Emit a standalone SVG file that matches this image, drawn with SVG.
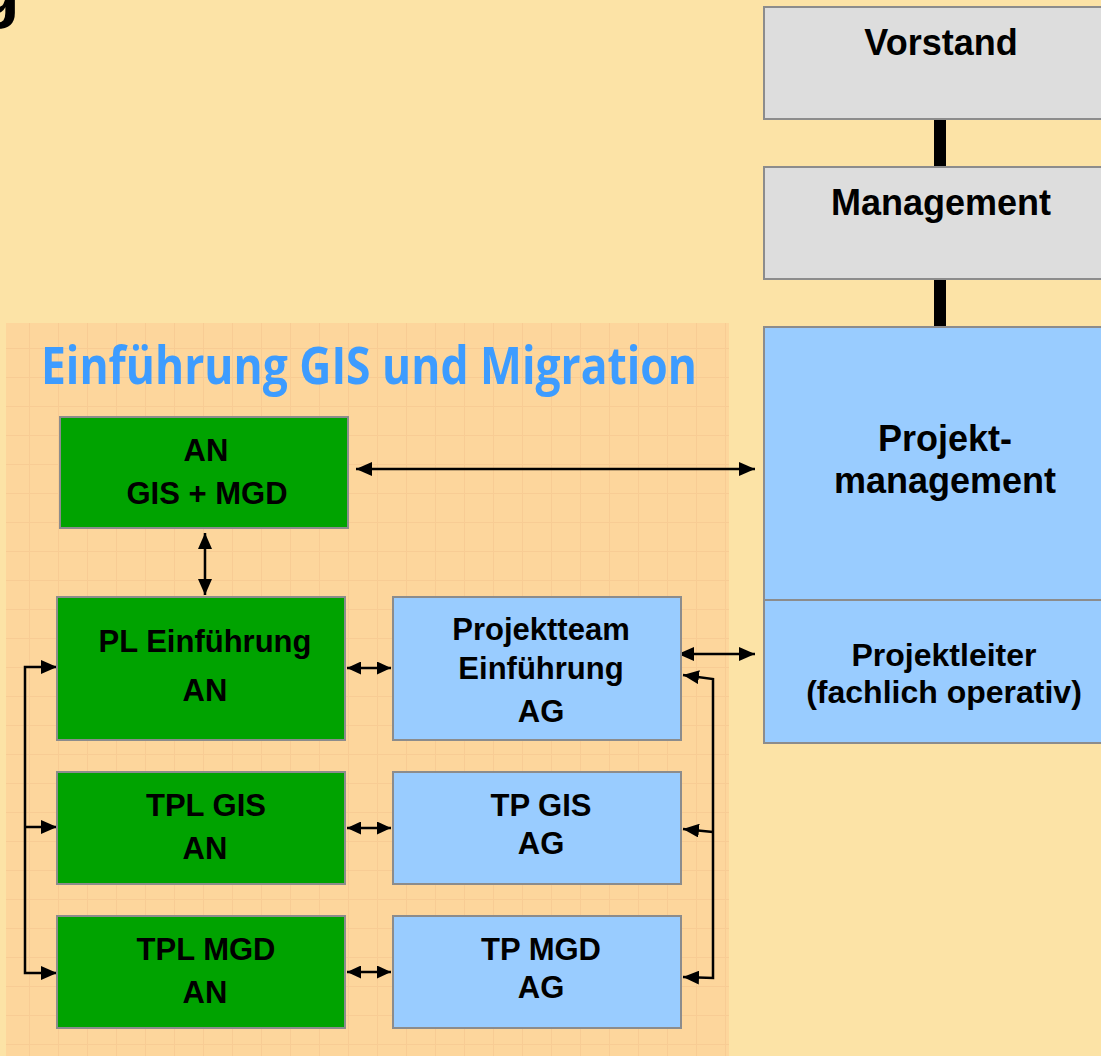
<svg xmlns="http://www.w3.org/2000/svg" width="1101" height="1056" viewBox="0 0 1101 1056">
<defs>
<style>
.gray{fill:#DDDDDD;stroke:#8C8C8C;stroke-width:2}
.blue{fill:#99CCFF;stroke:#8C8C8C;stroke-width:2}
.green{fill:#00A300;stroke:#8C8C8C;stroke-width:2}
.t{font-family:"Liberation Sans",Arial,sans-serif;font-weight:bold;fill:#000;text-anchor:middle}
.c{fill:none;stroke:#000;stroke-width:2.5}
</style>
<marker id="ah" viewBox="0 0 16 14" refX="16" refY="7" markerWidth="16" markerHeight="14" markerUnits="userSpaceOnUse" orient="auto-start-reverse"><path d="M0,0 L16,7 L0,14 z" fill="#000"/></marker>
<marker id="as" viewBox="0 0 14 13" refX="14" refY="6.5" markerWidth="14" markerHeight="13" markerUnits="userSpaceOnUse" orient="auto-start-reverse"><path d="M0,0 L14,6.5 L0,13 z" fill="#000"/></marker>
<pattern id="grid" width="29" height="29" patternUnits="userSpaceOnUse"><rect width="29" height="29" fill="#FDD69C"/><path d="M0,0.5 H29 M0.5,0 V29" stroke="#F8CC94" stroke-width="1"/></pattern>
</defs>
<rect width="1101" height="1056" fill="#FCE3A6"/>
<text x="-23" y="14" font-family="Liberation Sans,Arial,sans-serif" font-weight="bold" font-size="70" fill="#000">g</text>
<rect id="panel" x="6" y="323" width="723" height="740" fill="url(#grid)"/>
<text x="369" y="384" font-family="Open Sans,sans-serif" font-weight="bold" font-size="52" fill="#3D9CFF" text-anchor="middle" textLength="656" lengthAdjust="spacingAndGlyphs">Einführung GIS und Migration</text>
<g id="connectors">
<rect x="934" y="119" width="12" height="48" fill="#000"/>
<rect x="934" y="279" width="12" height="48" fill="#000"/>
<path class="c" d="M356,469 H755" marker-start="url(#ah)" marker-end="url(#ah)"/>
<path class="c" d="M205,533 V595" marker-start="url(#ah)" marker-end="url(#ah)"/>
<path class="c" d="M57,667 H25 V973 H57" marker-start="url(#ah)" marker-end="url(#ah)"/>
<path class="c" d="M25,827 H57" marker-end="url(#ah)"/>
<path class="c" d="M347,668 H391" marker-start="url(#as)" marker-end="url(#as)"/>
<path class="c" d="M347,828 H391" marker-start="url(#as)" marker-end="url(#as)"/>
<path class="c" d="M347,972 H391" marker-start="url(#as)" marker-end="url(#as)"/>
<path class="c" d="M678,654 H755" marker-start="url(#ah)" marker-end="url(#ah)"/>
<path class="c" d="M683,675 L713,679 V978 L683,977" marker-start="url(#ah)" marker-end="url(#ah)"/>
<path class="c" d="M713,832 L683,829" marker-end="url(#ah)"/>
</g>
<g id="vorstand"><rect class="gray" x="764" y="7" width="360" height="112"/><text class="t" x="941" y="55" font-size="36">Vorstand</text></g>
<g id="management"><rect class="gray" x="764" y="167" width="360" height="112"/><text class="t" x="941" y="215" font-size="36">Management</text></g>
<g id="projektmanagement"><rect class="blue" x="764" y="327" width="360" height="273"/><text class="t" x="945" y="451" font-size="36">Projekt-</text><text class="t" x="945" y="493" font-size="36">management</text></g>
<g id="projektleiter"><rect class="blue" x="764" y="600" width="360" height="143"/><text class="t" x="944" y="666" font-size="32">Projektleiter</text><text class="t" x="944" y="703" font-size="32">(fachlich operativ)</text></g>
<g id="an-gis-mgd"><rect class="green" x="60" y="417" width="288" height="111"/><text class="t" x="206" y="461" font-size="31">AN</text><text class="t" x="207" y="504" font-size="31">GIS + MGD</text></g>
<g id="pl-einfuehrung"><rect class="green" x="57" y="597" width="288" height="143"/><text class="t" x="205" y="652" font-size="31">PL Einführung</text><text class="t" x="205" y="701" font-size="31">AN</text></g>
<g id="tpl-gis"><rect class="green" x="57" y="772" width="288" height="112"/><text class="t" x="206" y="816" font-size="31">TPL GIS</text><text class="t" x="205" y="859" font-size="31">AN</text></g>
<g id="tpl-mgd"><rect class="green" x="57" y="916" width="288" height="112"/><text class="t" x="206" y="960" font-size="31">TPL MGD</text><text class="t" x="205" y="1003" font-size="31">AN</text></g>
<g id="projektteam"><rect class="blue" x="393" y="597" width="288" height="143"/><text class="t" x="541" y="640" font-size="31">Projektteam</text><text class="t" x="541" y="679" font-size="31">Einführung</text><text class="t" x="541" y="722" font-size="31">AG</text></g>
<g id="tp-gis"><rect class="blue" x="393" y="772" width="288" height="112"/><text class="t" x="541" y="816" font-size="31">TP GIS</text><text class="t" x="541" y="854" font-size="31">AG</text></g>
<g id="tp-mgd"><rect class="blue" x="393" y="916" width="288" height="112"/><text class="t" x="541" y="960" font-size="31">TP MGD</text><text class="t" x="541" y="998" font-size="31">AG</text></g>
</svg>
